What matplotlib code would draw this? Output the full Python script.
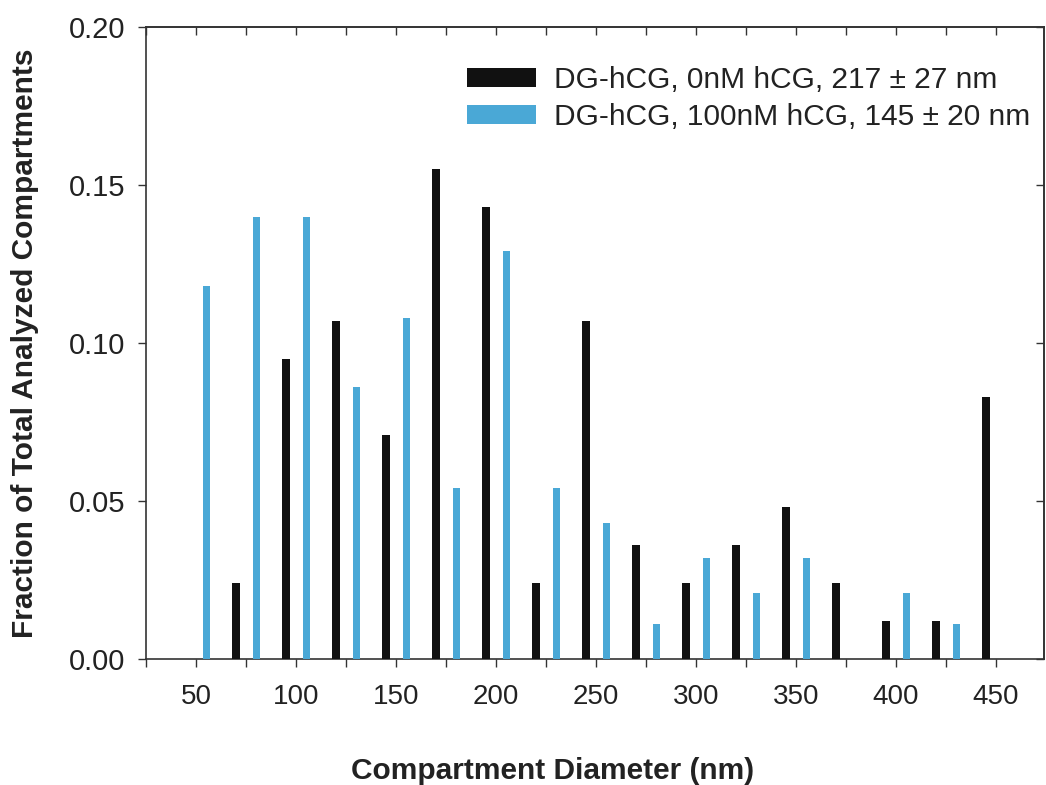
import matplotlib.pyplot as plt
import numpy as np
from matplotlib.patches import Patch

plt.rcParams['font.family'] = ['Liberation Sans', 'DejaVu Sans']

# bar positions (nm) and fractions
black_x = [70, 95, 120, 145, 170, 195, 220, 245, 270, 295, 320, 345, 370, 395, 420, 445]
black_y = [0.024, 0.095, 0.107, 0.071, 0.155, 0.143, 0.024, 0.107,
           0.036, 0.024, 0.036, 0.048, 0.024, 0.012, 0.012, 0.083]

blue_x = [55, 80, 105, 130, 155, 180, 205, 230, 255, 280, 305, 330, 355, 380, 405, 430]
blue_y = [0.118, 0.140, 0.140, 0.086, 0.108, 0.054, 0.129, 0.054,
          0.043, 0.011, 0.032, 0.021, 0.032, 0.0, 0.021, 0.011]

labels = ["DG-hCG, 0nM hCG, 217 \u00b1 27 nm", "DG-hCG, 100nM hCG, 145 \u00b1 20 nm"]
xticks = [50, 100, 150, 200, 250, 300, 350, 400, 450]
yticks = [0.00, 0.05, 0.10, 0.15, 0.20]

black_col = "#111111"
blue_col = "#4aa8d6"
axis_col = "#333333"
text_col = "#222222"

fig = plt.figure(figsize=(10.46, 7.85), dpi=100)
ax = fig.add_axes([146 / 1046, 126 / 785, 898 / 1046, 632 / 785])

ax.bar(black_x, black_y, width=4.0, color=black_col, zorder=3)
ax.bar(blue_x, blue_y, width=3.5, color=blue_col, zorder=3)

ax.set_xlim(25, 474)
ax.set_ylim(0, 0.20)

minor = list(range(25, 475, 25))
ax.set_xticks(minor)
ax.set_xticklabels([str(v) if v in xticks else "" for v in minor])
ax.set_yticks(yticks)
ax.set_yticklabels([f"{v:.2f}" for v in yticks])

ax.tick_params(axis='x', direction='out', length=6, width=1, colors=axis_col,
               labelsize=20, labelcolor=text_col, pad=12)
ax.tick_params(axis='y', direction='out', length=6, width=1, colors=axis_col,
               labelsize=21, labelcolor=text_col, pad=9)

# inward ticks on top and right
top = ax.secondary_xaxis('top')
top.set_xticks(minor)
top.tick_params(direction='in', length=6, width=1, colors=axis_col, labeltop=False)
right = ax.secondary_yaxis('right')
right.set_yticks(yticks)
right.tick_params(direction='in', length=6, width=1, colors=axis_col, labelright=False)

for a in (ax, top, right):
    for s in a.spines.values():
        s.set_color(axis_col)
        s.set_linewidth(1.2)

ax.set_xlabel("Compartment Diameter (nm)", fontsize=21.5, fontweight='bold', color=text_col)
ax.xaxis.set_label_coords(0.453, -0.177)
ax.xaxis.label.set_verticalalignment('center')
ax.set_ylabel("Fraction of Total Analyzed Compartments", fontsize=21.5, fontweight='bold',
              color=text_col)
ax.yaxis.set_label_coords(-0.135, 0.5)
ax.yaxis.label.set_verticalalignment('center')

handles = [Patch(facecolor=black_col), Patch(facecolor=blue_col)]
ax.legend(handles, labels, loc='upper left', bbox_to_anchor=(0.358, 0.939),
          frameon=False, fontsize=21.5, handlelength=2.3, handleheight=0.6,
          handletextpad=0.6, labelspacing=0.32, borderpad=0, borderaxespad=0,
          labelcolor=text_col)

fig.savefig("out.png", dpi=100)
